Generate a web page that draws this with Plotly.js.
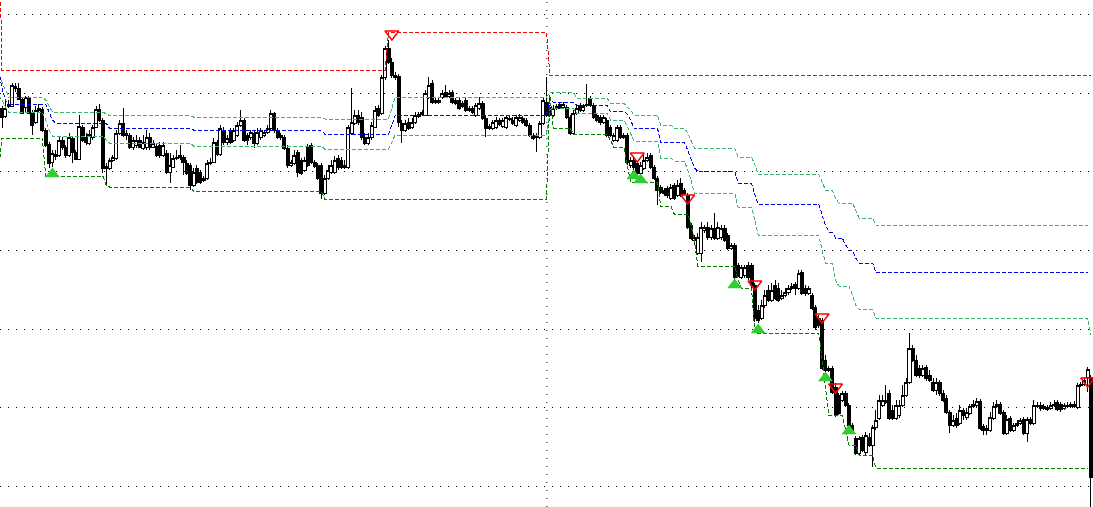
<!DOCTYPE html>
<html><head><meta charset="utf-8">
<script src="https://cdn.plot.ly/plotly-3.0.1.min.js"></script>
<style>html,body{margin:0;padding:0;background:#fff;}#chart{width:1093px;height:507px;}
#chart .boxlayer path, #chart .scatterlayer .lines path { shape-rendering: crispEdges; }
</style>
</head><body><div id="chart"></div>
<script>
// OHLC prices (one candle per bar)
const open = [492,484,494,494,514,512,501,493,502,488,
478,490,491,470,456,438,444,445,460,453,
445,462,448,441,473,463,457,463,473,491,
480,432,432,440,442,467,477,467,465,453,
455,460,452,453,463,453,454,455,445,447,
428,433,442,443,443,437,435,415,432,428,
420,422,437,438,458,446,470,458,470,460,
465,475,480,465,463,467,457,463,465,468,
472,487,470,463,463,452,435,437,448,440,
430,454,455,438,435,435,407,422,428,428,
442,440,433,433,467,477,485,483,463,457,
463,473,492,487,523,552,538,525,524,477,
470,478,473,478,484,486,485,503,517,500,
498,503,508,504,508,500,500,497,500,490,
492,485,492,497,482,474,472,473,480,474,
473,481,480,475,480,482,480,475,465,465,
463,477,498,493,485,492,496,493,493,483,
467,487,495,490,496,502,495,485,483,478,
480,473,460,460,473,463,465,435,440,437,
427,432,440,445,433,422,413,410,412,402,
415,405,417,410,405,375,360,347,347,370,
373,363,372,362,363,372,365,352,355,335,
323,325,335,335,315,290,282,295,310,300,
315,312,302,305,308,312,316,312,328,312,
307,305,293,282,280,240,232,232,213,205,
200,207,195,175,162,147,163,148,163,155,
173,182,195,198,207,190,182,185,195,205,
218,252,240,232,225,233,225,218,210,218,
207,202,188,175,182,177,190,183,187,194,
195,199,174,172,170,182,194,196,188,167,
182,170,175,177,181,167,181,177,194,195,
194,191,192,195,198,196,192,194,194,194,
193,215,216,223,223];
const high = [494,500,500,517,517,517,503,504,504,490,
494,496,493,472,458,450,450,464,463,455,
467,464,450,485,475,467,470,475,494,496,
482,437,442,445,470,480,492,470,467,463,
465,463,465,470,467,460,457,458,458,450,
447,445,450,455,445,440,437,432,435,430,
424,440,442,462,460,475,473,465,472,472,
478,490,482,467,470,470,472,472,470,475,
490,488,472,467,465,455,440,450,450,442,
443,456,457,440,437,437,425,435,440,444,
445,443,440,475,512,490,490,488,467,467,
478,494,495,525,554,560,542,528,526,480,
480,482,482,488,488,490,510,523,520,503,
503,510,515,510,510,502,502,499,502,494,
494,497,503,499,484,476,480,483,482,482,
485,485,483,485,486,484,482,477,467,467,
479,502,523,495,495,496,498,498,495,485,
490,495,497,496,516,504,497,487,485,485,
482,475,467,475,475,467,467,443,443,438,
438,445,447,447,435,424,415,412,414,416,
417,420,422,412,407,377,365,367,378,375,
378,375,387,378,375,375,367,357,357,337,
335,335,338,337,317,295,300,310,315,317,
320,317,310,312,315,317,318,330,330,315,
314,307,295,285,282,245,234,234,217,207,
209,209,197,177,164,164,165,168,167,175,
190,205,205,215,210,195,200,200,215,222,
267,255,245,235,235,235,230,222,222,220,
210,205,190,185,187,195,192,192,196,200,
202,201,176,175,188,198,200,198,190,185,
184,177,180,182,183,183,183,200,198,198,
196,195,198,200,200,198,197,198,198,199,
217,218,223,233,225];
const low = [472,482,492,493,508,500,486,487,486,465,
476,488,468,453,432,433,440,443,450,442,
443,437,440,440,458,455,455,460,472,478,
427,415,430,438,440,465,463,460,451,450,
452,452,450,450,450,452,443,442,443,426,
417,432,440,440,425,425,410,413,416,416,
418,420,435,437,444,444,455,455,456,458,
463,473,458,455,460,452,455,460,463,466,
470,467,461,460,450,432,433,435,423,425,
428,433,436,432,420,401,405,420,426,426,
430,431,431,431,465,475,475,460,455,455,
460,472,483,485,520,536,522,520,473,457,
468,470,471,476,482,484,484,501,496,496,
496,501,502,502,496,495,490,492,488,488,
486,483,490,480,463,470,470,471,474,472,
471,479,475,473,478,476,473,463,460,448,
461,475,483,483,483,490,491,491,481,465,
465,485,488,488,493,493,481,478,475,476,
463,463,458,458,461,461,435,432,430,424,
424,430,438,431,420,395,406,404,402,400,
400,403,403,405,371,360,355,345,338,367,
360,360,360,360,360,358,350,350,320,323,
321,322,320,312,278,277,280,292,298,298,
300,298,300,303,305,310,305,310,305,304,
305,290,270,272,230,228,228,206,183,185,
198,193,172,168,145,145,148,145,153,133,
170,180,193,196,180,180,180,182,193,203,
216,238,223,222,223,219,218,208,205,204,
198,186,167,173,172,175,180,180,185,192,
193,170,165,165,168,180,192,185,165,165,
168,168,173,175,165,158,175,175,192,189,
190,189,190,193,189,188,190,192,192,192,
191,213,214,208,80];
const close = [483,492,496,515,512,501,487,503,487,475,
490,492,470,455,437,447,446,460,453,445,
463,448,441,474,460,458,466,473,491,480,
432,434,440,443,467,477,465,465,453,460,
460,453,458,463,453,457,445,445,455,428,
435,442,443,445,438,427,415,428,418,418,
422,437,438,458,446,472,458,462,458,470,
475,480,460,460,468,457,468,470,468,472,
487,470,463,465,452,435,438,445,428,427,
440,435,438,434,422,407,422,430,435,440,
433,433,435,473,478,485,478,463,457,463,
475,490,485,523,552,538,525,523,478,470,
477,472,478,485,486,488,507,515,498,498,
500,507,504,507,498,497,492,494,490,492,
488,495,497,482,472,472,478,480,476,480,
483,482,477,483,483,478,475,465,462,463,
477,500,485,485,492,494,493,496,483,467,
487,492,490,494,495,495,483,480,478,483,
465,465,465,473,463,465,438,440,433,427,
435,440,443,433,422,410,408,407,405,413,
402,415,405,407,373,362,363,363,373,373,
363,372,362,373,372,360,352,355,323,325,
333,333,323,315,282,280,295,305,300,310,
302,300,305,308,312,314,312,327,307,307,
312,292,273,275,232,230,230,208,185,187,
207,195,175,170,147,162,150,165,155,173,
180,200,200,200,182,182,195,195,205,218,
252,240,225,225,232,222,220,210,218,207,
200,188,175,180,175,190,185,188,194,196,
199,172,170,170,183,194,196,187,167,181,
170,175,177,180,167,181,177,195,195,192,
192,193,195,196,191,191,195,195,196,196,
215,216,220,231,123];

// Indicator levels: bar where each level starts, and its value
const resistanceStart = [-1, 0, 115, 163];
const resistanceLevel = [700, 530, 568, 525];

const supportStart = [-1, 0, 13, 31, 32, 57, 96, 163, 164, 170, 181, 182, 186, 187, 196, 200, 205, 206, 207, 219, 220, 224, 244, 245, 246, 251, 252, 255, 260];
const supportLevel = [430, 462, 424, 415, 413, 409, 401, 505, 472, 466, 460, 453, 435, 418, 394, 386, 375, 360, 334, 320, 312, 267, 240, 210, 185, 170, 155, 145, 132];

const midStart = [-1, 0, 1, 2, 14, 15, 16, 32, 57, 96, 116, 117, 163, 164, 171, 181, 186, 187, 188, 196, 204, 205, 206, 207, 219, 224, 225, 244, 245, 246, 248, 251, 252, 254, 255, 260];
const midLevel = [530, 512, 500, 496, 488, 480, 477, 471.5, 470, 466, 475, 485, 501, 498, 495, 488.5, 486, 480, 472, 458, 450, 440, 432, 429, 417, 405, 396, 385, 375, 368, 362, 355, 350, 342, 337, 328];

const upperStart = [-1, 0, 1, 2, 13, 14, 15, 31, 32, 57, 96, 116, 117, 163, 171, 181, 186, 187, 188, 196, 200, 204, 205, 206, 219, 224, 225, 244, 245, 248, 249, 254, 255, 260];
const upperLevel = [525, 518, 510, 503, 500, 494, 488, 486, 484.5, 483, 481, 492, 503, 507.5, 502, 497, 493, 490, 485, 475, 472, 467, 460, 452, 443, 435, 426, 418, 410, 402, 397, 390, 382, 375];

const lowerStart = [-1, 0, 1, 2, 13, 14, 15, 31, 32, 57, 96, 116, 117, 163, 164, 171, 181, 186, 187, 188, 196, 200, 204, 205, 206, 219, 224, 225, 244, 245, 248, 249, 253, 254, 255, 260, 324];
const lowerLevel = [505, 500, 493, 488, 480, 470, 464, 460, 457, 454, 451, 458, 465, 490, 492, 487, 480, 474, 467, 459, 442, 439, 430, 420, 407, 393, 380, 365, 350, 337, 320, 314, 305, 295, 291, 282, 265];

// Signal arrows
const buyBar = [15, 188, 190, 218, 225, 245, 252];
const buyPrice = [426, 424, 420, 315, 270, 222, 169];
const sellBar = [116, 189, 204, 224, 244, 248, 323];
const sellPrice = [566, 444, 402, 316, 283, 213, 219];

const lastBar = open.length - 1;
const bars = open.map((_, i) => i);

function expand(starts, levels, last) {
  const xs = [], ys = [];
  for (let k = 0; k < starts.length; k++) {
    const end = k + 1 < starts.length ? starts[k + 1] - 1 : last;
    for (let i = starts[k]; i <= end; i++) { xs.push(i); ys.push(levels[k]); }
  }
  return {xs, ys};
}

function levelTrace(starts, levels, last, color) {
  const e = expand(starts, levels, last);
  return {type: 'scatter', mode: 'lines', x: e.xs, y: e.ys, hoverinfo: 'skip',
    showlegend: false, line: {color: color, width: 1, dash: '4px,2px'}};
}

const traces = [
  {type: 'candlestick', x: bars, open: open, high: high, low: low, close: close,
   showlegend: false, hoverinfo: 'skip', whiskerwidth: 0,
   increasing: {line: {color: '#000000', width: 1}, fillcolor: '#ffffff'},
   decreasing: {line: {color: '#000000', width: 1}, fillcolor: '#000000'}},
  levelTrace(resistanceStart, resistanceLevel, lastBar, '#ff0000'),
  levelTrace(upperStart, upperLevel, lastBar - 1, '#3cb371'),
  levelTrace(midStart, midLevel, lastBar - 1, '#0000ff'),
  levelTrace(lowerStart, lowerLevel, lastBar, '#3cb371'),
  levelTrace(supportStart, supportLevel, lastBar - 1, '#008000'),
  {type: 'scatter', mode: 'markers', x: buyBar, y: buyPrice, hoverinfo: 'skip', showlegend: false,
   marker: {symbol: 'triangle-up', size: 13, color: '#32cd32', line: {width: 0}}},
  {type: 'scatter', mode: 'markers', x: sellBar, y: sellPrice, hoverinfo: 'skip', showlegend: false,
   marker: {symbol: 'triangle-down-open', size: 12, color: '#ff0000', line: {width: 1.5, color: '#ff0000'}}}
];

const layout = {
  width: 1093, height: 507,
  margin: {l: 0, r: 0, t: 0, b: 0, pad: 0},
  paper_bgcolor: '#ffffff', plot_bgcolor: '#ffffff',
  showlegend: false,
  boxgap: 0.1, boxgroupgap: 0,
  xaxis: {range: [-0.595, 324.6], showgrid: false, zeroline: false, showticklabels: false,
    ticks: '', showline: false, rangeslider: {visible: false}, fixedrange: true},
  yaxis: {range: [93, 600], showgrid: true, gridcolor: '#000000', gridwidth: 1, griddash: '1px,7px',
    tick0: 113.5, dtick: 78.7, zeroline: false, showticklabels: false, ticks: '', showline: false, fixedrange: true},
  shapes: [{type: 'line', xref: 'x', yref: 'paper', x0: 162.1, x1: 162.1, y0: 0, y1: 1,
    line: {color: '#000000', width: 1, dash: '1px,7px'}, layer: 'below'}]
};

Plotly.newPlot('chart', traces, layout, {displayModeBar: false, staticPlot: true});
</script></body></html>
